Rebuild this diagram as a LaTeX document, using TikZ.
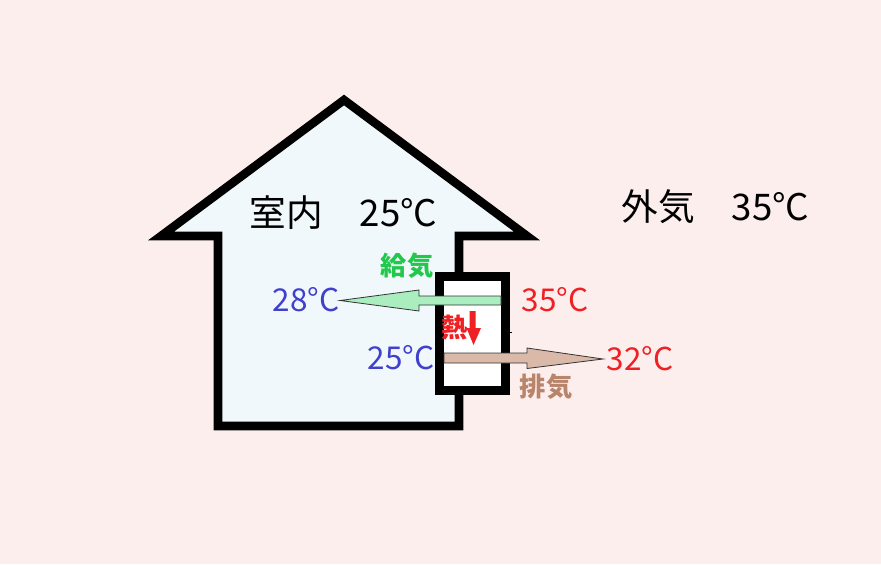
\documentclass[tikz,border=0pt]{standalone}
\usepackage{fontspec}
\newfontfamily\jp{Noto Sans CJK JP}
\definecolor{bgpink}{HTML}{FDEEEE}
\definecolor{housefill}{HTML}{F0F8FC}
\definecolor{supfill}{HTML}{AAEEC0}
\definecolor{exhfill}{HTML}{DAB9A8}
\definecolor{tblue}{HTML}{4040CC}
\definecolor{tred}{HTML}{EE2024}
\definecolor{tgreen}{HTML}{22C84A}
\definecolor{ttan}{HTML}{B8846A}
\tikzset{
  wall/.style={line width=6.4pt, line join=miter, draw=black},
  flowarrow/.style={draw=black!80, line width=0.6pt, line join=miter},
  bigtext/.style={font=\jp\fontsize{27.5}{32}\selectfont, inner sep=0pt},
  temptext/.style={font=\jp\fontsize{23.6}{28}\selectfont, inner sep=0pt},
  labeltext/.style={font=\jp\bfseries\fontsize{19.7}{23}\selectfont, inner sep=0pt},
}
\begin{document}
\begin{tikzpicture}[x=0.75pt,y=-0.75pt]
\fill[bgpink] (0,0) rectangle (881,564);
\useasboundingbox (0,0) rectangle (881,564);
% house
\draw[wall, fill=housefill] (218,426) -- (218,236) -- (161,236) -- (344,100) -- (527,236) -- (459,236) -- (459,426) -- cycle;
% heat exchanger box
\draw[wall, line width=6.75pt, fill=white] (439,276) rectangle (505,390);
\draw[black, line width=0.8pt] (509,332.5) -- (512,332.5);
% supply arrow
\draw[flowarrow, fill=supfill] (501,296) -- (419,296) -- (419,290) -- (340,300.5) -- (419,311) -- (419,305) -- (501,305) -- cycle;
% exhaust arrow
\draw[flowarrow, fill=exhfill] (444,353) -- (527,353) -- (527,348) -- (603,359) -- (527,368.5) -- (527,363) -- (444,363) -- cycle;
% heat arrow
\fill[tred] (469.5,311) -- (475.5,311) -- (475.5,328) -- (481,328) -- (473.5,345) -- (466.5,328) -- (469.5,328) -- cycle;
% texts
\node[bigtext] (indoor) at (343.5,213) {室内　25°C};
\node[bigtext] (outdoor) at (715.5,207) {外気　35°C};
\node[labeltext, text=tgreen] (supply) at (407,266) {給気};
\node[labeltext, text=ttan] (exhaust) at (546,387) {排気};
\node[labeltext, text=tred] (heat) at (455,328) {熱};
\node[temptext, text=tblue] (t28) at (306,300) {28°C};
\node[temptext, text=tred] (t35) at (555,300) {35°C};
\node[temptext, text=tblue] (t25) at (401,358) {25°C};
\node[temptext, text=tred] (t32) at (640,359) {32°C};
\end{tikzpicture}
\end{document}
